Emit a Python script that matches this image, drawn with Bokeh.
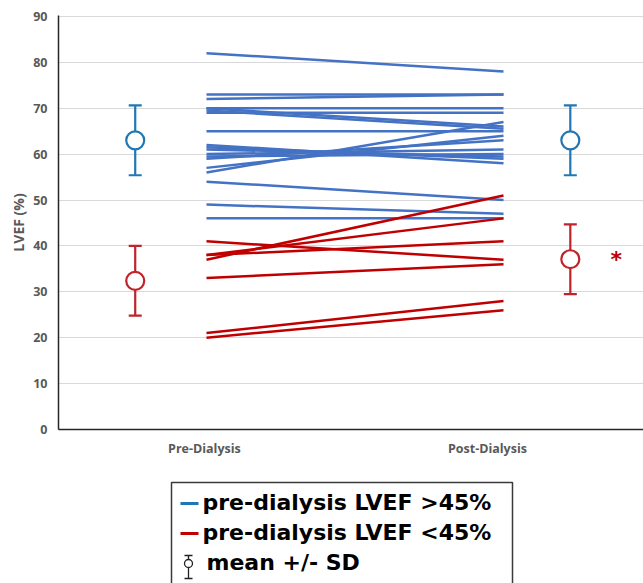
from bokeh.plotting import figure
from bokeh.models import Range1d, FixedTicker
from bokeh.layouts import column
from bokeh.core.properties import value
from bokeh.embed import file_html
from bokeh.resources import INLINE

# ---------------- data ----------------
categories = ["Pre-Dialysis", "Post-Dialysis"]
y_ticks = [0, 10, 20, 30, 40, 50, 60, 70, 80, 90]

# individual patients, pre-dialysis LVEF > 45%
blue_pre = [82, 73, 72, 70, 70, 69.5, 69, 65, 62, 61.5, 61, 60, 59.5, 59, 57, 56, 54, 49, 46]
blue_post = [78, 73, 73, 70, 66, 65.5, 69, 65, 58, 59, 59.5, 61, 60, 63, 64, 67, 50, 47, 46]

# individual patients, pre-dialysis LVEF < 45%
red_pre = [41, 38, 38, 37, 33, 21, 20]
red_post = [37, 46, 41, 51, 36, 28, 26]

# group mean +/- SD  (pre, post)
blue_mean = [63.0, 63.0]
blue_sd = [7.6, 7.6]
red_mean = [32.4, 37.1]
red_sd = [7.6, 7.6]

legend_labels = ["pre-dialysis LVEF >45%", "pre-dialysis LVEF <45%", "mean +/- SD"]

# ---------------- layout constants ----------------
X_PRE, X_POST = 1.0, 2.0
MEAN_X = [0.76, 2.225]
STAR_X = 2.38
LABEL_X = [0.993, 1.946]

C_LINE_BLUE = "#4472C4"
C_LINE_RED = "#C00000"
C_MEAN_BLUE = "#1F77B4"
C_MEAN_RED = "#C0232A"
GRAY = "#595959"

p = figure(width=643, height=470, output_backend="svg", toolbar_location=None,
           x_range=Range1d(0.5017, 2.4714), y_range=Range1d(0, 90.2),
           min_border_left=58, min_border_right=0, min_border_top=15, min_border_bottom=41)
p.outline_line_color = None
p.background_fill_color = "white"
p.border_fill_color = "white"

p.xgrid.grid_line_color = None
p.ygrid.grid_line_color = "#D9D9D9"
p.ygrid.grid_line_width = 1
p.ygrid.ticker = FixedTicker(ticks=y_ticks)

p.yaxis.ticker = FixedTicker(ticks=y_ticks)
p.yaxis.major_tick_out = 0
p.yaxis.major_tick_in = 0
p.yaxis.minor_tick_out = 0
p.yaxis.minor_tick_in = 0
p.yaxis.axis_line_color = "#262626"
p.yaxis.axis_line_width = 1.5
p.yaxis.major_label_text_font = "Open Sans"
p.yaxis.major_label_text_font_style = "bold"
p.yaxis.major_label_text_font_size = "12.5px"
p.yaxis.major_label_text_color = GRAY
p.yaxis.major_label_standoff = 11
p.yaxis.axis_label = "LVEF (%)"
p.yaxis.axis_label_text_font = "Open Sans"
p.yaxis.axis_label_text_font_style = "bold"
p.yaxis.axis_label_text_font_size = "14px"
p.yaxis.axis_label_text_color = GRAY
p.yaxis.axis_label_standoff = 2

p.xaxis.ticker = FixedTicker(ticks=LABEL_X)
p.xaxis.major_label_overrides = {LABEL_X[0]: categories[0], LABEL_X[1]: categories[1]}
p.xaxis.major_tick_out = 0
p.xaxis.major_tick_in = 0
p.xaxis.minor_tick_out = 0
p.xaxis.minor_tick_in = 0
p.xaxis.axis_line_color = "#262626"
p.xaxis.axis_line_width = 1.5
p.xaxis.major_label_text_font = "Open Sans"
p.xaxis.major_label_text_font_style = "bold"
p.xaxis.major_label_text_font_size = "12.5px"
p.xaxis.major_label_text_color = GRAY
p.xaxis.major_label_standoff = 10

# individual lines
p.multi_line(xs=[[X_PRE, X_POST] for _ in blue_pre],
             ys=[[a, b] for a, b in zip(blue_pre, blue_post)],
             line_color=C_LINE_BLUE, line_width=2.5)
p.multi_line(xs=[[X_PRE, X_POST] for _ in red_pre],
             ys=[[a, b] for a, b in zip(red_pre, red_post)],
             line_color=C_LINE_RED, line_width=2.5)

# mean +/- SD markers
for means, sds, col in [(blue_mean, blue_sd, C_MEAN_BLUE), (red_mean, red_sd, C_MEAN_RED)]:
    lo = [m - s for m, s in zip(means, sds)]
    hi = [m + s for m, s in zip(means, sds)]
    p.segment(x0=MEAN_X, y0=lo, x1=MEAN_X, y1=hi, line_color=col, line_width=2.2)
    p.scatter(x=MEAN_X + MEAN_X, y=lo + hi, marker="dash", size=13,
              line_color=col, line_width=2.2)
    p.scatter(x=MEAN_X, y=means, marker="circle", size=18, fill_color="white",
              line_color=col, line_width=2.2)

# significance asterisk next to post-dialysis red mean
p.text(x=[STAR_X], y=[red_mean[1]], text=["*"], text_color=C_LINE_RED,
       text_font=value("DejaVu Sans"), text_font_style="bold", text_font_size="22px",
       text_align="center", text_baseline="alphabetic", y_offset=0)

# ---------------- legend panel (coordinates = page pixels) ----------------
leg = figure(width=643, height=113, output_backend="svg", toolbar_location=None,
             x_range=Range1d(58, 643), y_range=Range1d(583, 470),
             min_border_left=58, min_border_right=0, min_border_top=0, min_border_bottom=0)
leg.axis.visible = False
leg.grid.visible = False
leg.outline_line_color = None
leg.background_fill_color = "white"
leg.border_fill_color = "white"

leg.quad(left=[171], right=[512], top=[482], bottom=[620], fill_color=None,
         line_color="#3A3A3A", line_width=1.5)
row_y = [503, 533, 563]
leg.segment(x0=[180, 180], y0=row_y[:2], x1=[198, 198], y1=row_y[:2],
            line_color=[C_MEAN_BLUE, C_LINE_RED], line_width=3)
# small mean +/- SD symbol
leg.segment(x0=[188], y0=[555], x1=[188], y1=[578], line_color="#222222", line_width=1.3)
leg.scatter(x=[188, 188], y=[555, 578], marker="dash", size=8, line_color="#222222", line_width=1.3)
leg.scatter(x=[188], y=[563], marker="circle", size=8, fill_color="white",
            line_color="#222222", line_width=1.3)

leg.text(x=[202, 202, 206], y=[r - 1 for r in row_y], text=legend_labels,
         text_color="black", text_font=value("DejaVu Sans"), text_font_style="bold",
         text_font_size="22px", text_align="left", text_baseline="alphabetic")

layout = column(p, leg, spacing=0)
open("out.html", "w").write(file_html(layout, INLINE))
